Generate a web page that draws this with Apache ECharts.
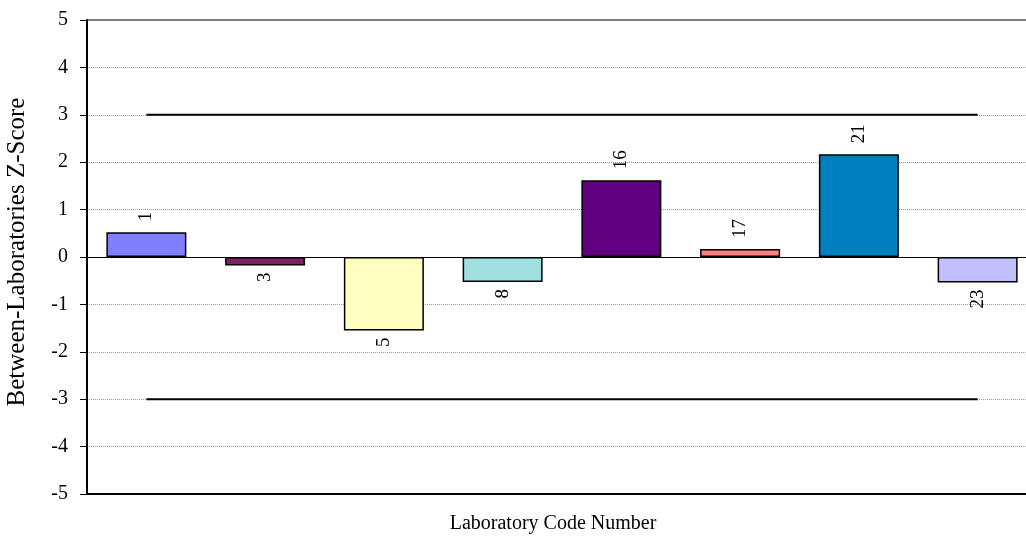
<!DOCTYPE html>
<html>
<head>
<meta charset="utf-8">
<script src="https://cdn.jsdelivr.net/npm/echarts@6/dist/echarts.min.js"></script>
<style>html,body{margin:0;padding:0;background:#fff}#c{width:1026px;height:538px}</style>
</head>
<body>
<div id="c"></div>
<script>
var categories = ['1', '3', '5', '8', '16', '17', '21', '23'];
var zScores = [0.52, -0.18, -1.55, -0.53, 1.62, 0.17, 2.17, -0.54];
var barColors = ['#8080FF', '#802060', '#FFFFC0', '#A0E0E0', '#600080', '#FF8080', '#0080C0', '#C0C0FF'];
var upperLimit = [3, 3, 3, 3, 3, 3, 3, 3];
var lowerLimit = [-3, -3, -3, -3, -3, -3, -3, -3];
var yTicks = [-5, -4, -3, -2, -1, 0, 1, 2, 3, 4, 5];

var FONT = '"Liberation Serif", "Times New Roman", serif';

var barData = zScores.map(function (v, i) {
  var pos = v >= 0;
  return {
    value: v,
    itemStyle: { color: barColors[i] },
    label: {
      show: true,
      formatter: categories[i],
      position: pos ? 'top' : 'bottom',
      rotate: 90,
      align: pos ? 'left' : 'right',
      verticalAlign: 'middle',
      distance: pos ? 11 : 7
    }
  };
});

var splitColors = yTicks.map(function (t) {
  return (t === yTicks[0] || t === yTicks[yTicks.length - 1] || t === 0) ? 'rgba(0,0,0,0)' : '#999999';
});

var chart = echarts.init(document.getElementById('c'), null, { renderer: 'canvas' });
chart.setOption({
  animation: false,
  backgroundColor: '#ffffff',
  textStyle: { fontFamily: FONT },
  grid: {
    left: 87, top: 20, right: -11, bottom: 44,
    containLabel: false,
    outerBoundsMode: 'none',
    show: true, borderColor: '#000', borderWidth: 1, backgroundColor: 'transparent'
  },
  xAxis: [{
    type: 'category',
    data: categories,
    axisLine: { onZero: true, lineStyle: { color: '#000', width: 1 } },
    axisTick: { show: false },
    axisLabel: { show: false },
    splitLine: { show: false }
  }, {
    type: 'category',
    data: categories,
    position: 'bottom',
    axisLine: { onZero: false, lineStyle: { color: '#000', width: 2 } },
    axisTick: { show: false },
    axisLabel: { show: false }
  }],
  yAxis: {
    type: 'value',
    min: yTicks[0],
    max: yTicks[yTicks.length - 1],
    interval: 1,
    axisLine: { show: true, lineStyle: { color: '#000', width: 2 } },
    axisTick: { show: true, inside: false, length: 7, lineStyle: { color: '#000', width: 1 } },
    axisLabel: { fontFamily: FONT, fontSize: 20, color: '#000', margin: 19 },
    splitLine: { show: true, lineStyle: { color: splitColors, type: [1, 1], width: 1 } }
  },
  series: [{
    type: 'bar',
    data: barData,
    barWidth: 80,
    itemStyle: { borderColor: '#000', borderWidth: 1.5 },
    label: { fontFamily: FONT, fontSize: 19, color: '#000' },
    z: 3
  }, {
    type: 'line',
    data: upperLimit,
    symbol: 'none',
    lineStyle: { color: '#000', width: 2 },
    silent: true,
    z: 4
  }, {
    type: 'line',
    data: lowerLimit,
    symbol: 'none',
    lineStyle: { color: '#000', width: 2 },
    silent: true,
    z: 4
  }],
  graphic: [{
    type: 'text',
    x: 17, y: 252,
    rotation: Math.PI / 2,
    style: { text: 'Between-Laboratories Z-Score', font: '25px ' + FONT, fill: '#000', align: 'center', verticalAlign: 'middle' }
  }, {
    type: 'text',
    x: 553, y: 524,
    style: { text: 'Laboratory Code Number', font: '20px ' + FONT, fill: '#000', align: 'center', verticalAlign: 'middle' }
  }]
});
</script>
</body>
</html>
